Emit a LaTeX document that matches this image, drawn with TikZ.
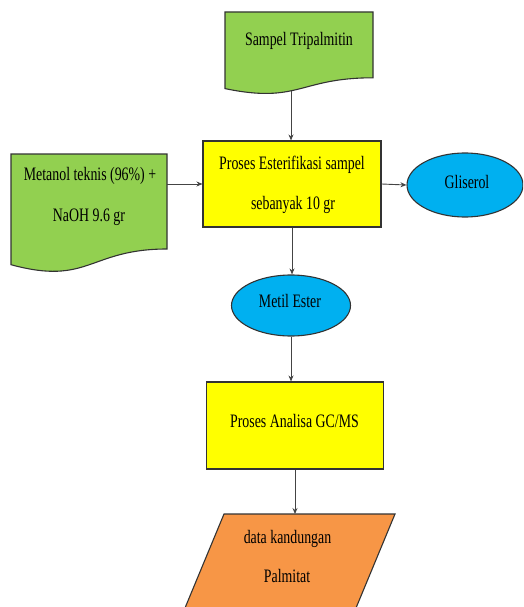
\documentclass[tikz,border=0pt]{standalone}
\usepackage{fontspec}
\setmainfont{Liberation Serif}[FakeStretch=0.73]
\usetikzlibrary{shapes.geometric,arrows.meta}
\definecolor{docgreen}{HTML}{92D050}
\definecolor{boxyellow}{HTML}{FFFF00}
\definecolor{ellblue}{HTML}{00B0F0}
\definecolor{outorange}{HTML}{F79646}
\definecolor{edge}{HTML}{333333}
\definecolor{arrowgray}{HTML}{444444}
\begin{document}
\begin{tikzpicture}[x=1pt,y=-1pt,
  shapeline/.style={draw=edge,line width=1.1pt},
  ybox/.style={shapeline,fill=boxyellow,rectangle,inner sep=0pt},
  bell/.style={shapeline,fill=ellblue,ellipse,inner sep=0pt},
  txt/.style={font=\fontsize{19}{23}\selectfont,inner sep=0pt,anchor=base},
  arr/.style={draw=arrowgray,line width=0.9pt,-{Stealth[length=6pt,width=5pt]}}]
\useasboundingbox (0,0) rectangle (523,607);
\clip (0,0) rectangle (523,607);
% Sampel Tripalmitin document
\draw[shapeline,fill=docgreen] (225,12) -- (373,12) -- (373,77.8)
  .. controls (299,77.8) and (299,104) .. (225,88.6) -- cycle;
\coordinate (sb) at (291,91.5);
\node[txt] (tsampel) at (299,46) {Sampel Tripalmitin};
% Metanol document
\draw[shapeline,fill=docgreen] (11,154) -- (167,154) -- (167,249)
  .. controls (89,249) and (89,286) .. (11,264.7) -- cycle;
\coordinate (me) at (167,184);
\node[txt] (tmet1) at (90,180) {Metanol teknis (96\%) +};
\node[txt] (tmet2) at (89,221) {NaOH 9.6 gr};
% Proses Esterifikasi box
\node[ybox,minimum width=178pt,minimum height=86pt] (p1) at (292,184) {};
\node[txt] (tp11) at (292,169) {Proses Esterifikasi sampel};
\node[txt] (tp12) at (293,209) {sebanyak 10 gr};
% Gliserol
\node[bell,minimum width=116pt,minimum height=64pt] (gl) at (465,185) {};
\node[txt] (tgl) at (467,188) {Gliserol};
% Metil Ester
\node[bell,minimum width=119pt,minimum height=61pt] (mt) at (291,305.5) {};
\node[txt] (tmt) at (290,307) {Metil Ester};
% Proses Analisa box
\node[ybox,minimum width=177pt,minimum height=87pt] (p2) at (295,425.5) {};
\node[txt] (tp2) at (294.5,427) {Proses Analisa GC/MS};
% data output parallelogram
\draw[shapeline,fill=outorange] (224,514) -- (395,514) -- (351,620) -- (180,620) -- cycle;
\coordinate (po) at (294,514);
\node[txt] (td1) at (287.5,543) {data kandungan};
\node[txt] (td2) at (287,582) {Palmitat};
% connectors
\draw[arr] (sb) -- (sb |- p1.north);
\draw[arr] (me) -- (me -| p1.west);
\draw[arr] (p1.east) -- (gl.west);
\draw[arr] (p1.south) -- (p1.south |- mt.north);
\draw[arr] (mt.south) -- (mt.south |- p2.north);
\draw[arr] (p2.south) -- (p2.south |- po);
\end{tikzpicture}
\end{document}
